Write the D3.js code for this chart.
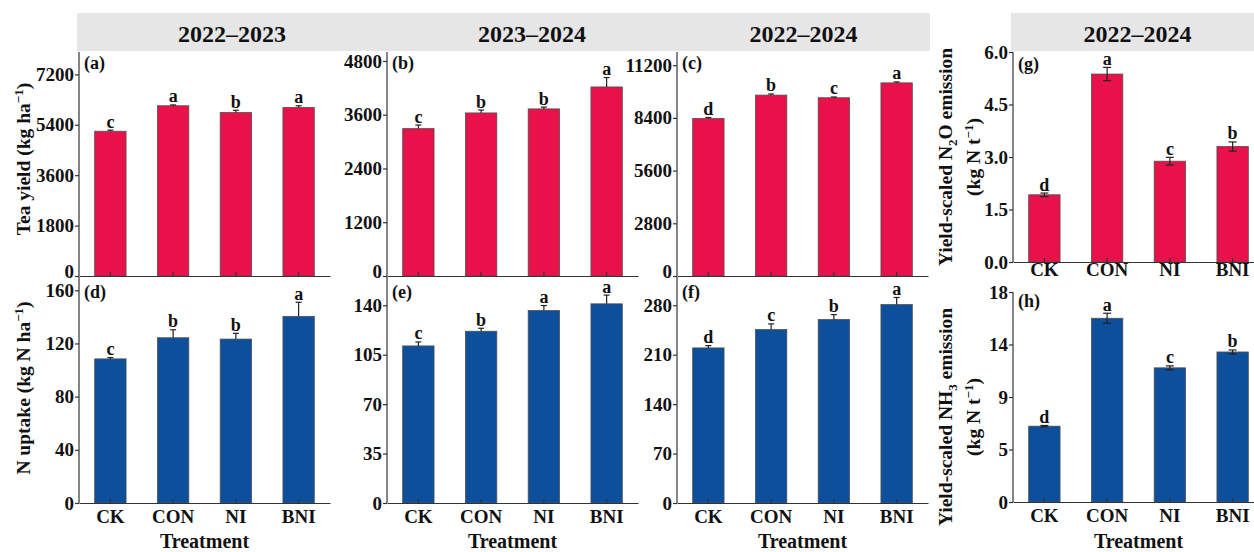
<!DOCTYPE html>
<html>
<head>
<meta charset="utf-8">
<script src="https://cdn.jsdelivr.net/npm/d3@7"></script>
<style>
  body { margin: 0; background: #fff; }
  svg text { font-family: "Liberation Serif", "Times New Roman", serif; font-weight: bold; fill: #111; }
</style>
</head>
<body>
<svg id="chart" width="1254" height="552"></svg>
<script>
// treatments on every x axis
var treatments = ["CK", "CON", "NI", "BNI"];

// (a) tea yield 2022-2023
var yieldA = [5170, 6080, 5840, 6020];
var yieldAErr = [40, 30, 80, 60];
var yieldALetters = ["c", "a", "b", "a"];
var ticksA = [0, 1800, 3600, 5400, 7200];

// (b) tea yield 2023-2024
var yieldB = [3290, 3640, 3730, 4220];
var yieldBErr = [80, 65, 40, 210];
var yieldBLetters = ["c", "b", "b", "a"];
var ticksB = [0, 1200, 2400, 3600, 4800];

// (c) tea yield 2022-2024
var yieldC = [8370, 9610, 9470, 10260];
var yieldCErr = [50, 60, 40, 50];
var yieldCLetters = ["d", "b", "c", "a"];
var ticksC = [0, 2800, 5600, 8400, 11200];

// (d) N uptake 2022-2023
var uptakeD = [108.4, 124.3, 123.3, 140.4];
var uptakeDErr = [1, 6, 4.3, 10.6];
var uptakeDLetters = ["c", "b", "b", "a"];
var ticksD = [0, 40, 80, 120, 160];

// (e) N uptake 2023-2024
var uptakeE = [111.2, 121.6, 136.3, 141];
var uptakeEErr = [2.8, 2.1, 3.5, 6.2];
var uptakeELetters = ["c", "b", "a", "a"];
var ticksE = [0, 35, 70, 105, 140];

// (f) N uptake 2022-2024
var uptakeF = [219.6, 245.6, 259.8, 281];
var uptakeFErr = [3.3, 8, 7, 10];
var uptakeFLetters = ["d", "c", "b", "a"];
var ticksF = [0, 70, 140, 210, 280];

// (g) yield-scaled N2O emission 2022-2024
var n2oG = [1.92, 5.37, 2.88, 3.3];
var n2oGErr = [0.05, 0.19, 0.11, 0.13];
var n2oGLetters = ["d", "a", "c", "b"];
var ticksG = [0, 1.5, 3, 4.5, 6];

// (h) yield-scaled NH3 emission 2022-2024
var nh3H = [6.5, 15.75, 11.5, 12.86];
var nh3HErr = [0.06, 0.43, 0.17, 0.17];
var nh3HLetters = ["d", "a", "c", "b"];
var ticksH = [0, 4.5, 9, 13.5, 18];
var tickLabelsH = ["0", "5", "9", "14", "18"];

var headers = ["2022\u20132023", "2023\u20132024", "2022\u20132024", "2022\u20132024"];

var RED = "#e8114a";
var BLUE = "#0e4f9c";

var svg = d3.select("#chart");
svg.append("rect").attr("width", 1254).attr("height", 552).attr("fill", "#fff");

// grey header strips
var headerBoxes = [[77, 387], [387, 677], [677, 930], [1011, 1264]];
headerBoxes.forEach(function(b, i){
  svg.append("rect").attr("x", b[0]).attr("y", 13).attr("width", b[1] - b[0]).attr("height", 38)
    .attr("fill", "#e6e6e6");
  svg.append("text").attr("x", (b[0] + b[1]) / 2).attr("y", 41.5)
    .attr("text-anchor", "middle").style("font-size", "24px").text(headers[i]);
});

function drawPanel(p){
  var g = svg.append("g");
  var x = d3.scaleBand().domain(treatments).range([p.left, p.left + 251])
    .paddingInner(0.5).paddingOuter(0.25);
  var y = d3.scaleLinear().domain([0, p.max]).range([p.bottom, p.top]);

  g.selectAll("rect.bar").data(p.values).join("rect")
    .attr("class", "bar")
    .attr("x", function(d, i){ return x(treatments[i]); })
    .attr("y", function(d){ return y(d); })
    .attr("width", x.bandwidth())
    .attr("height", function(d){ return y(0) - y(d); })
    .attr("fill", p.color)
    .attr("stroke", "#505050").attr("stroke-width", 0.8);

  // error bars (one sided for a-f, both sides for g-h)
  var cap = p.both ? 4 : 3;
  p.values.forEach(function(v, i){
    var cx = x(treatments[i]) + x.bandwidth() / 2;
    var lo = p.both ? v - p.err[i] : v;
    var hi = v + p.err[i];
    g.append("line").attr("x1", cx).attr("x2", cx).attr("y1", y(lo)).attr("y2", y(hi))
      .attr("stroke", "#222").attr("stroke-width", 1.2);
    g.append("line").attr("x1", cx - cap).attr("x2", cx + cap).attr("y1", y(hi)).attr("y2", y(hi))
      .attr("stroke", "#222").attr("stroke-width", 1.2);
    if (p.both) {
      g.append("line").attr("x1", cx - cap).attr("x2", cx + cap).attr("y1", y(lo)).attr("y2", y(lo))
        .attr("stroke", "#222").attr("stroke-width", 1.2);
    }
    g.append("text").attr("x", cx).attr("y", y(hi) - 2.5)
      .attr("text-anchor", "middle").style("font-size", "18px").text(p.letters[i]);
  });

  // y axis, ticks outside
  var yAxis = d3.axisLeft(y).tickValues(p.ticks).tickSizeInner(4).tickSizeOuter(0).tickPadding(1)
    .tickFormat(function(d, i){ return p.tickLabels ? p.tickLabels[i] : p.fmt(d); });
  var ya = g.append("g").attr("transform", "translate(" + p.left + ",0)").call(yAxis);
  ya.select(".domain").attr("d", "M0," + p.top + "V" + p.bottom);
  // the zero label of the upper row sits a little high so it clears the panel below
  if (p.liftZero) {
    ya.selectAll(".tick text").filter(function(d){ return d === 0; }).attr("dy", "0.1em");
  }

  // x axis, ticks pointing up into the plot
  var xAxis = d3.axisBottom(x).tickSizeInner(-4).tickSizeOuter(0).tickPadding(p.xPad);
  var xa = g.append("g").attr("transform", "translate(0," + p.bottom + ")").call(xAxis);
  if (!p.xLabels) xa.selectAll(".tick text").remove();

  g.selectAll(".domain, .tick line").attr("stroke", "#333").attr("stroke-width", 1.2);
  g.selectAll(".tick text").style("font-size", "19px").attr("fill", "#111");

  g.append("text").attr("x", p.left + 5).attr("y", p.top + p.labelDy)
    .style("font-size", "18px").text(p.label);

  if (p.xLabels) {
    g.append("text").attr("x", p.left + 251 / 2).attr("y", 548)
      .attr("text-anchor", "middle").style("font-size", "20px").text("Treatment");
  }
}

var fmt0 = d3.format("d");
var fmt1 = d3.format(".1f");

drawPanel({ left: 79, top: 52, bottom: 276, max: 8000, values: yieldA, err: yieldAErr, letters: yieldALetters,
  ticks: ticksA, fmt: fmt0, color: RED, label: "(a)", labelDy: 17, xLabels: false, xPad: 3, liftZero: true });
drawPanel({ left: 387, top: 52, bottom: 276, max: 5000, values: yieldB, err: yieldBErr, letters: yieldBLetters,
  ticks: ticksB, fmt: fmt0, color: RED, label: "(b)", labelDy: 17, xLabels: false, xPad: 3, liftZero: true });
drawPanel({ left: 677, top: 52, bottom: 276, max: 11900, values: yieldC, err: yieldCErr, letters: yieldCLetters,
  ticks: ticksC, fmt: fmt0, color: RED, label: "(c)", labelDy: 17, xLabels: false, xPad: 3, liftZero: true });
drawPanel({ left: 79, top: 277, bottom: 503, max: 170, values: uptakeD, err: uptakeDErr, letters: uptakeDLetters,
  ticks: ticksD, fmt: fmt0, color: BLUE, label: "(d)", labelDy: 21, xLabels: true, xPad: 6.5 });
drawPanel({ left: 387, top: 277, bottom: 503, max: 160, values: uptakeE, err: uptakeEErr, letters: uptakeELetters,
  ticks: ticksE, fmt: fmt0, color: BLUE, label: "(e)", labelDy: 21, xLabels: true, xPad: 6.5 });
drawPanel({ left: 677, top: 277, bottom: 503, max: 320, values: uptakeF, err: uptakeFErr, letters: uptakeFLetters,
  ticks: ticksF, fmt: fmt0, color: BLUE, label: "(f)", labelDy: 21, xLabels: true, xPad: 6.5 });
drawPanel({ left: 1013, top: 52, bottom: 262, max: 6, values: n2oG, err: n2oGErr, letters: n2oGLetters, both: true,
  ticks: ticksG, fmt: fmt1, color: RED, label: "(g)", labelDy: 18, xLabels: false, xPad: 1 });
drawPanel({ left: 1013, top: 292, bottom: 502, max: 18, values: nh3H, err: nh3HErr, letters: nh3HLetters, both: true,
  ticks: ticksH, tickLabels: tickLabelsH, color: BLUE, label: "(h)", labelDy: 15, xLabels: true, xPad: 6.5 });

// panel g keeps its category labels
(function(){
  var x = d3.scaleBand().domain(treatments).range([1013, 1264]).paddingInner(0.5).paddingOuter(0.25);
  treatments.forEach(function(t){
    svg.append("text").attr("x", x(t) + x.bandwidth() / 2).attr("y", 276)
      .attr("text-anchor", "middle").style("font-size", "19px").text(t);
  });
})();

// y axis titles
function yTitle(cx, cy, parts){
  var t = svg.append("text").attr("transform", "translate(" + cx + "," + cy + ") rotate(-90)")
    .attr("text-anchor", "middle").attr("dy", "0.35em").style("font-size", "19.5px");
  parts.forEach(function(s){
    var ts = t.append("tspan").text(s[0]);
    if (s[1] === "sup") ts.attr("dy", -7).style("font-size", "13px");
    if (s[1] === "sub") ts.attr("dy", 5).style("font-size", "13px");
    if (s[1] === "back") ts.attr("dy", s[2]);
  });
}
yTitle(23, 159, [["Tea yield (kg ha"], ["\u22121", "sup"], [")", "back", 7]]);
yTitle(23, 388, [["N uptake (kg N ha"], ["\u22121", "sup"], [")", "back", 7]]);
yTitle(945, 157, [["Yield-scaled N"], ["2", "sub"], ["O emission", "back", -5]]);
yTitle(973, 157, [["(kg N t"], ["\u22121", "sup"], [")", "back", 7]]);
yTitle(945, 417, [["Yield-scaled NH"], ["3", "sub"], [" emission", "back", -5]]);
yTitle(973, 417, [["(kg N t"], ["\u22121", "sup"], [")", "back", 7]]);
</script>
</body>
</html>
